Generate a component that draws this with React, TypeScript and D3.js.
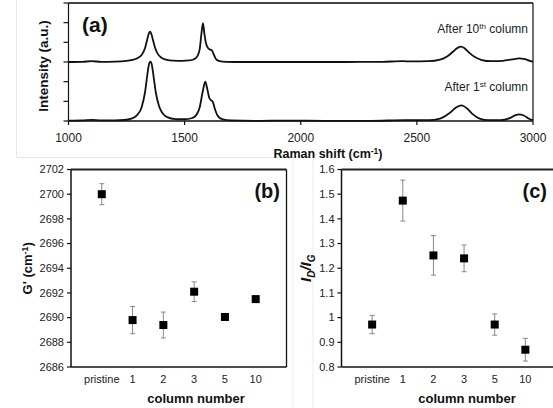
import React from 'react';
import * as d3 from 'd3';

// Raman spectra: [raman shift cm-1, intensity a.u.]
const spectrumAfter10 = [
  [1000, 3.0], [1060, 3.01], [1100, 3.04], [1140, 3.01], [1200, 3.02], [1250, 3.06],
  [1280, 3.12], [1300, 3.22], [1315, 3.36], [1330, 3.72], [1340, 4.2], [1346, 4.45],
  [1351, 4.54], [1356, 4.45], [1362, 4.2], [1372, 3.75], [1385, 3.4], [1400, 3.22],
  [1420, 3.12], [1450, 3.07], [1490, 3.06], [1520, 3.08], [1540, 3.14], [1555, 3.3],
  [1565, 3.65], [1572, 4.4], [1579, 4.97], [1585, 4.45], [1592, 3.95], [1600, 3.72],
  [1610, 3.63], [1617, 3.6], [1625, 3.4], [1635, 3.15], [1650, 3.05], [1680, 3.01],
  [1750, 3.0], [1850, 3.0], [2000, 3.0], [2200, 3.0], [2350, 3.01], [2440, 3.04],
  [2470, 3.03], [2550, 3.04], [2600, 3.12], [2630, 3.28], [2655, 3.52], [2675, 3.72],
  [2690, 3.78], [2705, 3.7], [2725, 3.48], [2750, 3.25], [2780, 3.1], [2820, 3.04],
  [2870, 3.06], [2910, 3.13], [2940, 3.18], [2965, 3.14], [2990, 3.04], [3000, 3.02],
];

const spectrumAfter1 = [
  [1000, 0.02], [1060, 0.03], [1100, 0.06], [1140, 0.03], [1200, 0.03], [1240, 0.05],
  [1270, 0.12], [1295, 0.3], [1315, 0.7], [1330, 1.5], [1340, 2.4], [1348, 2.95],
  [1353, 3.02], [1358, 2.9], [1366, 2.3], [1376, 1.45], [1390, 0.75], [1405, 0.4],
  [1425, 0.2], [1460, 0.1], [1500, 0.09], [1530, 0.14], [1550, 0.3], [1565, 0.7],
  [1578, 1.5], [1589, 2.0], [1598, 1.6], [1607, 1.15], [1616, 1.04], [1622, 0.95],
  [1632, 0.55], [1645, 0.22], [1665, 0.08], [1700, 0.03], [1800, 0.01], [1950, 0.02],
  [2100, 0.01], [2300, 0.01], [2450, 0.04], [2550, 0.04], [2600, 0.12], [2640, 0.4],
  [2670, 0.7], [2693, 0.79], [2715, 0.65], [2740, 0.35], [2770, 0.12], [2810, 0.04],
  [2860, 0.04], [2900, 0.15], [2925, 0.3], [2940, 0.34], [2960, 0.28], [2985, 0.1],
  [3000, 0.04],
];

const ramanTicks = [1000, 1500, 2000, 2500, 3000];
const intensityTicks = [0, 1, 2, 3, 4, 5, 6];

const categories = ['pristine', '1', '2', '3', '5', '10'];
const gPrime = [2700.0, 2689.8, 2689.4, 2692.1, 2690.05, 2691.5];
const gPrimeErr = [0.85, 1.1, 1.05, 0.8, 0.1, 0.15];
const gPrimeTicks = [2686, 2688, 2690, 2692, 2694, 2696, 2698, 2700, 2702];
const ratio = [0.972, 1.474, 1.252, 1.24, 0.972, 0.87];
const ratioErr = [0.037, 0.083, 0.08, 0.054, 0.043, 0.046];
const ratioTicks = [0.8, 0.9, 1.0, 1.1, 1.2, 1.3, 1.4, 1.5, 1.6];

const FONT = 'Arial, "Liberation Sans", Helvetica, sans-serif';

function ScatterPanel({ left, right, domain, ticks, values, errs, fmt, label, yLabel, yLabelX, xTitleX }) {
  const top = 169.5;
  const bottom = 367;
  const x = d3.scaleLinear().domain([0, 7]).range([left, right]);
  const y = d3.scaleLinear().domain(domain).range([bottom, top]);
  return (
    <g>
      <line x1={left} x2={right} y1={top} y2={top} stroke="#222" strokeWidth={2} />
      <line x1={right} x2={right} y1={top} y2={bottom} stroke="#111" strokeWidth={1.3} />
      <line x1={left} x2={left} y1={top} y2={bottom} stroke="#111" strokeWidth={1.5} />
      <line x1={left} x2={right} y1={bottom} y2={bottom} stroke="#111" strokeWidth={1.5} />
      {ticks.map((t) => (
        <g key={t}>
          <line x1={left - 4} x2={left} y1={y(t)} y2={y(t)} stroke="#111" strokeWidth={1.2} />
          <text x={left - 7} y={y(t)} dy="0.35em" textAnchor="end" fontSize={11} fill="#222">
            {fmt(t)}
          </text>
        </g>
      ))}
      {categories.map((c, i) => (
        <text key={c} x={x(i + 1)} y={383} textAnchor="middle" fontSize={11} fill="#222">
          {c}
        </text>
      ))}
      {values.map((v, i) => (
        <g key={i}>
          <line x1={x(i + 1)} x2={x(i + 1)} y1={y(v - errs[i])} y2={y(v + errs[i])} stroke="#888" strokeWidth={1} />
          <line x1={x(i + 1) - 2.5} x2={x(i + 1) + 2.5} y1={y(v + errs[i])} y2={y(v + errs[i])} stroke="#888" strokeWidth={1} />
          <line x1={x(i + 1) - 2.5} x2={x(i + 1) + 2.5} y1={y(v - errs[i])} y2={y(v - errs[i])} stroke="#888" strokeWidth={1} />
          <rect x={x(i + 1) - 4} y={y(v) - 4} width={8} height={8} fill="#000" />
        </g>
      ))}
      <text x={xTitleX} y={403} textAnchor="middle" fontSize={13} fontWeight="bold" fill="#111">
        column number
      </text>
      <text
        transform={`translate(${yLabelX},${(top + bottom) / 2}) rotate(-90)`}
        textAnchor="middle"
        dy="0.35em"
        fontSize={13}
        fontWeight="bold"
        fill="#111"
      >
        {yLabel}
      </text>
      <text x={label.x} y={198} textAnchor="end" fontSize={20} fontWeight="bold" fill="#111">
        {label.text}
      </text>
    </g>
  );
}

export default function App() {
  const xA = d3.scaleLinear().domain([1000, 3000]).range([68.5, 533]);
  const yA = d3.scaleLinear().domain([0, 6]).range([121, 3]);
  const line = d3
    .line<number[]>()
    .x((d) => xA(d[0]))
    .y((d) => yA(d[1]))
    .curve(d3.curveMonotoneX);

  return (
    <div style={{ position: 'absolute', left: 0, top: 0 }}>
      <svg width={553} height={408} fontFamily={FONT} style={{ display: 'block', background: '#fff' }}>
        {/* faint image frames */}
        <polyline points="16.5,0 16.5,157.5 293,157.5" fill="none" stroke="#e6e6e6" strokeWidth={1} />
        <line x1={293} x2={293} y1={157.5} y2={408} stroke="#ececec" strokeWidth={1} />
        <line x1={313} x2={313} y1={150} y2={408} stroke="#ececec" strokeWidth={1} />

        {/* panel (a) */}
        <line x1={xA(1000)} x2={xA(3000)} y1={yA(6)} y2={yA(6)} stroke="#444" strokeWidth={2} />
        <line x1={xA(3000)} x2={xA(3000)} y1={yA(6)} y2={yA(0)} stroke="#111" strokeWidth={1.2} />
        <line x1={xA(1000)} x2={xA(1000)} y1={yA(6)} y2={yA(0)} stroke="#111" strokeWidth={1.2} />
        <line x1={xA(1000)} x2={xA(3000)} y1={yA(0)} y2={yA(0)} stroke="#111" strokeWidth={1.5} />
        {intensityTicks.map((t) => (
          <line key={t} x1={xA(1000) - 5} x2={xA(1000)} y1={yA(t)} y2={yA(t)} stroke="#111" strokeWidth={1.2} />
        ))}
        {ramanTicks.map((t) => (
          <g key={t}>
            <line x1={xA(t)} x2={xA(t)} y1={yA(0)} y2={yA(0) + 4} stroke="#111" strokeWidth={1.2} />
            <text x={xA(t)} y={yA(0) + 16.5} dy="0.35em" textAnchor="middle" fontSize={12} fill="#222">
              {t}
            </text>
          </g>
        ))}
        <path d={line(spectrumAfter10) || ''} fill="none" stroke="#111" strokeWidth={1.8} />
        <path d={line(spectrumAfter1) || ''} fill="none" stroke="#111" strokeWidth={1.8} />
        <text x={82} y={32} fontSize={21} fontWeight="bold" fill="#111">(a)</text>
        <text x={528} y={33} textAnchor="end" fontSize={12} fill="#222">
          After 10<tspan dy={-4} fontSize={8}>th</tspan><tspan dy={4}> column</tspan>
        </text>
        <text x={528} y={91} textAnchor="end" fontSize={12} fill="#222">
          After 1<tspan dy={-4} fontSize={8}>st</tspan><tspan dy={4}> column</tspan>
        </text>
        <text x={328} y={157.5} textAnchor="middle" fontSize={12.5} fontWeight="bold" fill="#111">
          Raman shift (cm<tspan dy={-4} fontSize={8.5}>-1</tspan><tspan dy={4}>)</tspan>
        </text>
        <text
          transform={`translate(43,${(yA(0) + yA(6)) / 2 + 4}) rotate(-90)`}
          textAnchor="middle"
          dy="0.35em"
          fontSize={13.5}
          fontWeight="bold"
          fill="#111"
        >
          Intensity (a.u.)
        </text>

        {/* panel (b) */}
        <ScatterPanel
          left={71}
          right={286.5}
          domain={[2686, 2702]}
          ticks={gPrimeTicks}
          values={gPrime}
          errs={gPrimeErr}
          fmt={(t) => String(t)}
          label={{ x: 280, text: '(b)' }}
          yLabel={
            <>
              G' (cm<tspan dy={-4} fontSize={9}>-1</tspan><tspan dy={4}>)</tspan>
            </>
          }
          yLabelX={27}
          xTitleX={196}
        />

        {/* panel (c) */}
        <ScatterPanel
          left={341.5}
          right={556}
          domain={[0.8, 1.6]}
          ticks={ratioTicks}
          values={ratio}
          errs={ratioErr}
          fmt={(t) => d3.format('~g')(+t.toFixed(1))}
          label={{ x: 547, text: '(c)' }}
          yLabel={
            <tspan fontStyle="italic" fontSize={15}>
              I<tspan dy={4} fontSize={10}>D</tspan>
              <tspan dy={-4}>/I</tspan>
              <tspan dy={4} fontSize={10}>G</tspan>
            </tspan>
          }
          yLabelX={306}
          xTitleX={467}
        />
      </svg>
    </div>
  );
}
